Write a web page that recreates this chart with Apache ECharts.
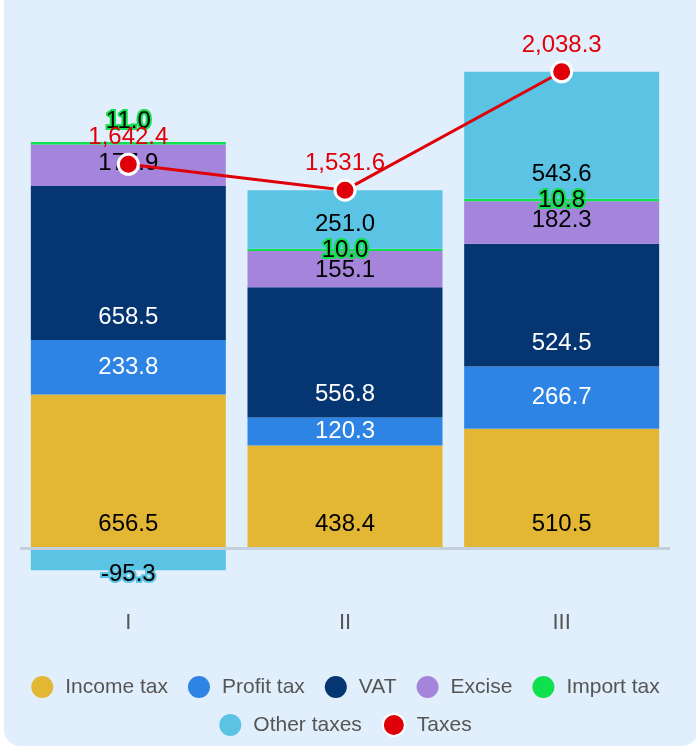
<!DOCTYPE html>
<html>
<head>
<meta charset="utf-8">
<script src="https://cdn.jsdelivr.net/npm/echarts@6.0.0/dist/echarts.min.js"></script>
<style>
html, body { margin: 0; padding: 0; background: #fff; }
#bg { position: absolute; left: 4px; top: -30px; width: 694px; height: 776px; background: #e1effc; border-radius: 16px; }
#main { position: absolute; left: 0; top: 0; width: 696px; height: 747px; }
</style>
</head>
<body>
<div id="bg"></div>
<div id="main"></div>
<script>
const quarters = ['I', 'II', 'III'];
const incomeTax = [656.5, 438.4, 510.5];
const profitTax = [233.8, 120.3, 266.7];
const vat = [658.5, 556.8, 524.5];
const excise = [177.9, 155.1, 182.3];
const importTax = [11.0, 10.0, 10.8];
const otherTaxes = [-95.3, 251.0, 543.6];
const taxes = [1642.4, 1531.6, 2038.3];
const legendRow1 = ['Income tax', 'Profit tax', 'VAT', 'Excise', 'Import tax'];
const legendRow2 = ['Other taxes', 'Taxes'];

const font = '"Liberation Sans", Arial, sans-serif';
const fmt = v => Number(v).toLocaleString('en-US', { minimumFractionDigits: 1, maximumFractionDigits: 1 });

function barSeries(name, data, color, label) {
	return {
		name,
		type: 'bar',
		stack: 'taxes',
		barWidth: '90%',
		data,
		itemStyle: { color },
		label: Object.assign({
			show: true,
			fontSize: 24,
			fontFamily: font,
			color: '#000',
			formatter: p => fmt(p.value),
		}, label),
	};
}

const legendBase = {
	left: 'center',
	padding: 0,
	icon: 'circle',
	itemWidth: 22,
	itemHeight: 22,
	itemGap: 15,
	textStyle: { fontSize: 21, color: '#555', fontFamily: font, lineHeight: 22, padding: [0, 5, 0, 7] },
};

const income = barSeries('Income tax', incomeTax, '#e3b734', { position: 'insideBottom', distance: 12 });
income.markLine = { // zero line
	silent: true,
	symbol: 'none',
	label: { show: false },
	lineStyle: { color: '#c3cfdb', width: 3, type: 'solid' },
	data: [{ yAxis: 0 }],
};

echarts.init(document.getElementById('main')).setOption({
	animation: false,
	textStyle: { fontFamily: font },
	grid: { left: 20, right: 26, top: 34, bottom: 143 },
	legend: [
		Object.assign({ top: 676, left: 38, data: legendRow1 }, legendBase, { left: 'center' }),
		Object.assign({ top: 713, data: legendRow2 }, legendBase),
	],
	xAxis: {
		type: 'category',
		data: quarters,
		axisLine: { show: false },
		axisTick: { show: false },
		axisLabel: { fontSize: 22, color: '#555', margin: 8 },
	},
	yAxis: {
		type: 'value',
		min: -240,
		max: 2200,
		show: false,
		splitLine: { show: false },
	},
	series: [
		income,
		barSeries('Profit tax', profitTax, '#2e84e4', { position: 'inside', color: '#fff' }),
		barSeries('VAT', vat, '#063672', { position: 'insideBottom', distance: 11, color: '#fff' }),
		barSeries('Excise', excise, '#a585db', { position: 'insideTop', distance: 7 }),
		barSeries('Import tax', importTax.map((v, i) => i === 0 ? { value: v, label: { position: 'top', distance: 9 } } : v),
			'#11e04e', { position: 'inside', textBorderColor: '#11e04e', textBorderWidth: 4 }),
		barSeries('Other taxes', otherTaxes.map(v => v < 0 ? { value: v, label: { distance: -16 } } : v),
			'#5bc3e4', { position: 'insideBottom', distance: 12, textBorderColor: '#5bc3e4', textBorderWidth: 4 }),
		{
			name: 'Taxes',
			type: 'line',
			data: taxes,
			z: 5,
			symbol: 'circle',
			symbolSize: 20,
			lineStyle: { color: '#e00009', width: 3 },
			itemStyle: { color: '#e00009', borderColor: '#fff', borderWidth: 3 },
			label: {
				show: true,
				position: 'top',
				distance: 3,
				fontSize: 24,
				fontFamily: font,
				color: '#e00009',
				formatter: p => fmt(p.value),
			},
		},
	],
});
</script>
</body>
</html>
